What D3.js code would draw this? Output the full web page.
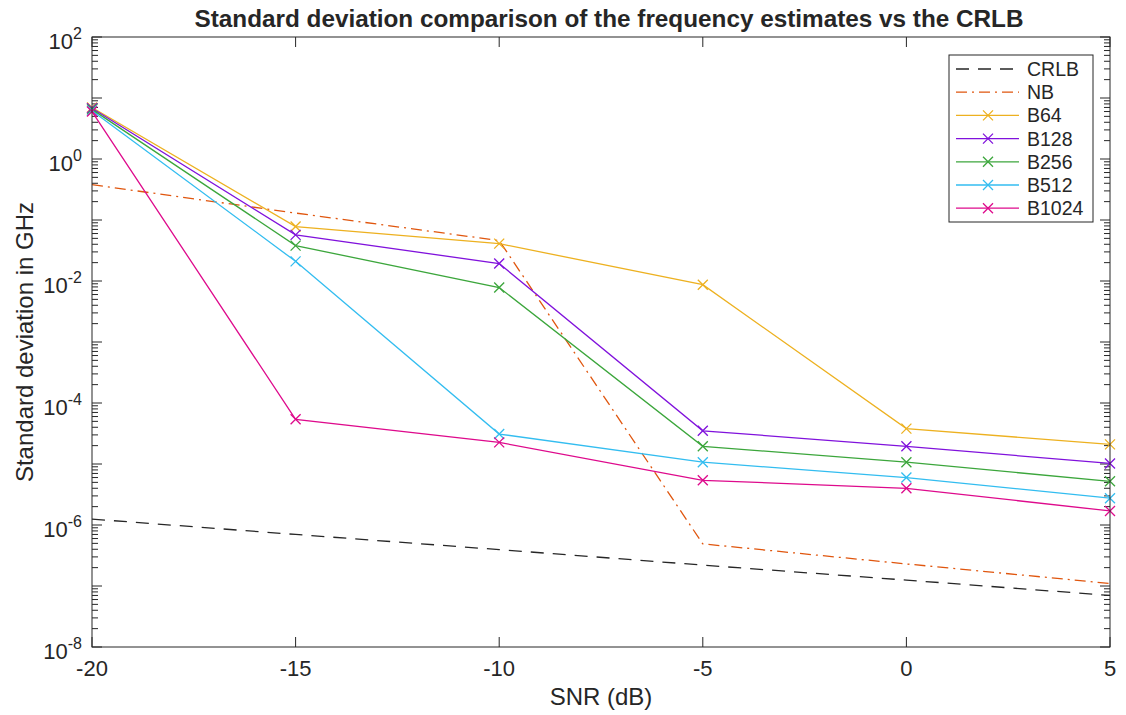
<!DOCTYPE html>
<html>
<head>
    <title></title>
    <style>
        body {
            margin: 0;
            background: #fff;
        }
        text {
            font-family: "Liberation Sans", Arial, Helvetica, sans-serif;
            fill: #262626;
        }
        .frame {
            fill: none;
            stroke: #262626;
            stroke-width: 1px;
        }
        .tick {
            stroke: #262626;
            stroke-width: 1px;
        }
        .series {
            fill: none;
            stroke-width: 1.3px;
        }
        .mark {
            stroke-width: 1.3px;
        }
    </style>
</head>
<body>
<script src="https://cdn.jsdelivr.net/npm/d3@7"></script>
<script>
    var width = 1126;
    var height = 715;
    var plotLeft = 92, plotRight = 1110, plotTop = 37, plotBottom = 647;

    // data
    var snr = [-20, -15, -10, -5, 0, 5];
    var crlb = [1.25e-6, 7.0e-7, 3.95e-7, 2.2e-7, 1.25e-7, 7.0e-8];
    var nb = [0.38, 0.13, 0.046, 4.9e-7, 2.3e-7, 1.1e-7];
    var b64 = [7.0, 0.078, 0.041, 0.0087, 3.8e-5, 2.1e-5];
    var b128 = [6.8, 0.057, 0.0193, 3.5e-5, 1.95e-5, 1.02e-5];
    var b256 = [6.5, 0.038, 0.0078, 1.95e-5, 1.07e-5, 5.2e-6];
    var b512 = [6.2, 0.021, 3.1e-5, 1.07e-5, 6.0e-6, 2.75e-6];
    var b1024 = [6.0, 5.4e-5, 2.26e-5, 5.4e-6, 4.0e-6, 1.7e-6];

    var xTicks = [-20, -15, -10, -5, 0, 5];
    var yTickExps = [-8, -6, -4, -2, 0, 2];

    var series = [
        {name: "CRLB", values: crlb, color: "#262626", dash: "13,9", marker: false},
        {name: "NB", values: nb, color: "#E0560E", dash: "11,5,2,5", marker: false},
        {name: "B64", values: b64, color: "#EDB120", dash: null, marker: true},
        {name: "B128", values: b128, color: "#8012DC", dash: null, marker: true},
        {name: "B256", values: b256, color: "#3CA63C", dash: null, marker: true},
        {name: "B512", values: b512, color: "#33BDF0", dash: null, marker: true},
        {name: "B1024", values: b1024, color: "#DE0A8C", dash: null, marker: true}
    ];

    var x = d3.scaleLinear().domain([-20, 5]).range([plotLeft, plotRight]);
    var y = d3.scaleLog().domain([1e-8, 1e2]).range([plotBottom, plotTop]);

    var svg = d3.select("body").append("svg")
            .attr("width", width)
            .attr("height", height);

    // ticks, inward on all four sides
    var ticks = svg.append("g");
    xTicks.forEach(function(t) {
        ticks.append("line").attr("class", "tick")
            .attr("x1", x(t)).attr("x2", x(t)).attr("y1", plotBottom).attr("y2", plotBottom - 10);
        ticks.append("line").attr("class", "tick")
            .attr("x1", x(t)).attr("x2", x(t)).attr("y1", plotTop).attr("y2", plotTop + 10);
    });
    for(var e = -8; e <= 2; e++) {
        for(var k = 1; k <= 9; k++) {
            if(e === 2 && k > 1) break;
            var v = k * Math.pow(10, e);
            var len = k === 1 ? 10 : 6;
            ticks.append("line").attr("class", "tick")
                .attr("x1", plotLeft).attr("x2", plotLeft + len).attr("y1", y(v)).attr("y2", y(v));
            ticks.append("line").attr("class", "tick")
                .attr("x1", plotRight).attr("x2", plotRight - len).attr("y1", y(v)).attr("y2", y(v));
        }
    }

    // tick labels
    svg.append("g").selectAll("text").data(xTicks).enter().append("text")
        .attr("x", function(d) {return x(d);})
        .attr("y", plotBottom + 29)
        .attr("text-anchor", "middle")
        .style("font-size", "22px")
        .text(function(d) {return d;});

    var yl = svg.append("g").selectAll("text").data(yTickExps).enter().append("text")
        .attr("x", 82)
        .attr("y", function(d) {return y(Math.pow(10, d)) + 12;})
        .attr("text-anchor", "end")
        .style("font-size", "22px");
    yl.append("tspan").text("10");
    yl.append("tspan").attr("dy", -10).style("font-size", "16px").text(function(d) {return d;});

    // lines
    var line = d3.line()
        .x(function(d, i) {return x(snr[i]);})
        .y(function(d) {return y(d);});

    series.forEach(function(s) {
        svg.append("path").attr("class", "series")
            .attr("d", line(s.values))
            .style("stroke", s.color)
            .style("stroke-dasharray", s.dash);
        if(s.marker) {
            s.values.forEach(function(v, i) {
                svg.append("path").attr("class", "mark")
                    .attr("d", cross(x(snr[i]), y(v), 5))
                    .style("stroke", s.color);
            });
        }
    });

    function cross(cx, cy, r) {
        return "M" + (cx - r) + "," + (cy - r) + "L" + (cx + r) + "," + (cy + r) +
               "M" + (cx - r) + "," + (cy + r) + "L" + (cx + r) + "," + (cy - r);
    }

    svg.append("rect").attr("class", "frame")
        .attr("x", plotLeft).attr("y", plotTop)
        .attr("width", plotRight - plotLeft).attr("height", plotBottom - plotTop);

    // legend
    var lg = svg.append("g");
    lg.append("rect").attr("x", 949).attr("y", 55).attr("width", 144).attr("height", 167)
        .style("fill", "#fff").style("stroke", "#262626").style("stroke-width", "1px");
    series.forEach(function(s, i) {
        var ly = 69 + i * 23.2;
        lg.append("line").attr("class", "series")
            .attr("x1", 956).attr("x2", 1019).attr("y1", ly).attr("y2", ly)
            .style("stroke", s.color)
            .style("stroke-dasharray", s.dash);
        if(s.marker) {
            lg.append("path").attr("class", "mark")
                .attr("d", cross(988, ly, 5)).style("stroke", s.color);
        }
        lg.append("text").attr("x", 1027).attr("y", ly + 7)
            .style("font-size", "19.5px")
            .text(s.name);
    });

    // titles
    svg.append("text")
        .attr("x", 609).attr("y", 27)
        .attr("text-anchor", "middle")
        .style("font-size", "24.3px").style("font-weight", "bold")
        .text("Standard deviation comparison of the frequency estimates vs the CRLB");

    svg.append("text")
        .attr("x", (plotLeft + plotRight) / 2).attr("y", 705)
        .attr("text-anchor", "middle")
        .style("font-size", "24px")
        .text("SNR (dB)");

    svg.append("text")
        .attr("transform", "translate(33," + ((plotTop + plotBottom) / 2) + ")rotate(-90)")
        .attr("text-anchor", "middle")
        .style("font-size", "24px")
        .text("Standard deviation in GHz");
</script>
</body>
</html>
